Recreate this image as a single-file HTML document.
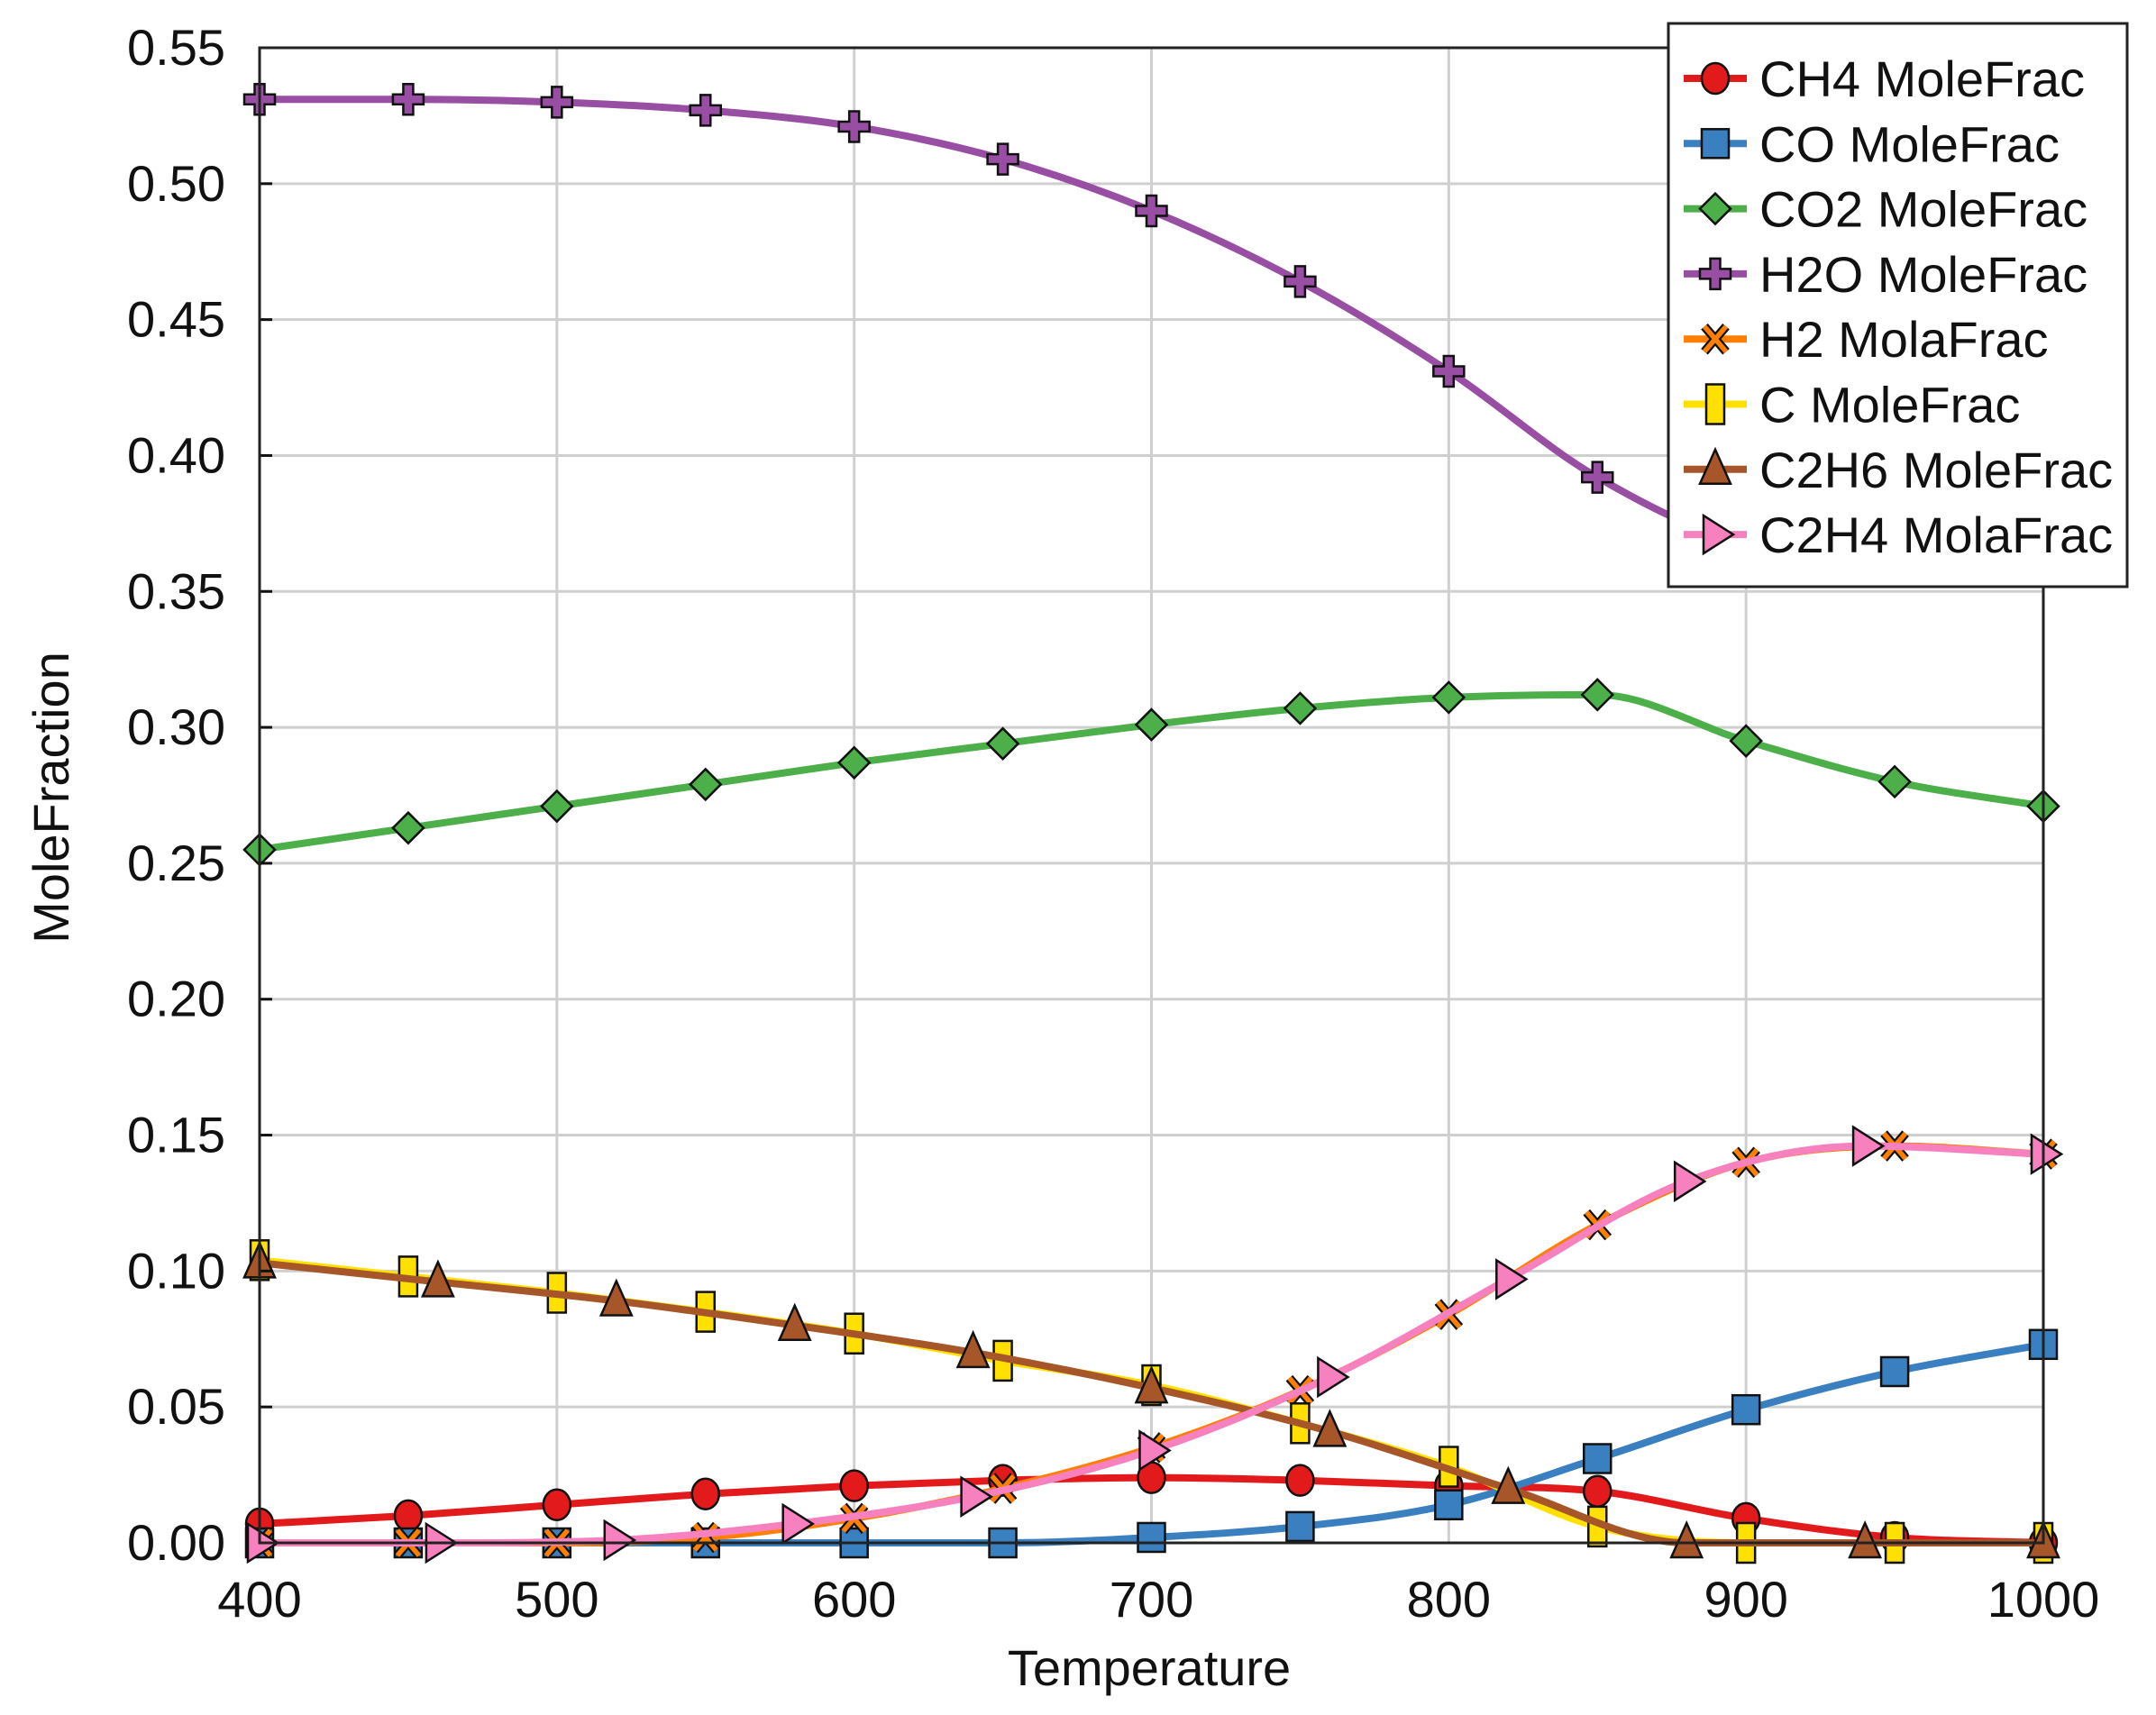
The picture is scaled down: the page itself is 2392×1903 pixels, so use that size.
<!DOCTYPE html>
<html><head><meta charset="utf-8"><style>
html,body{margin:0;padding:0;background:#fff;}
svg{display:block;font-family:"Liberation Sans",Arial,sans-serif;}
</style></head><body>
<svg id="chart" width="2392" height="1903" viewBox="0 0 2392 1903" xmlns="http://www.w3.org/2000/svg">
<g id="grid"></g>
<g id="series"></g>
<g id="axes"></g>
<g id="legend"></g>
</svg>
<script>
const xTicks = [400,500,600,700,800,900,1000];
const yTicks = [0,0.05,0.10,0.15,0.20,0.25,0.30,0.35,0.40,0.45,0.50,0.55];
const yTickLabels = ["0.00","0.05","0.10","0.15","0.20","0.25","0.30","0.35","0.40","0.45","0.50","0.55"];
const tStep50 = [400,450,500,550,600,650,700,750,800,850,900,950,1000];
const tStep60 = [400,460,520,580,640,700,760,820,880,940,1000];
const ch4 = [0.007,0.010,0.014,0.018,0.021,0.023,0.024,0.023,0.021,0.019,0.009,0.002,0.000];
const co = [0,0,0,0,0,0,0.002,0.006,0.014,0.031,0.049,0.063,0.073];
const co2 = [0.255,0.263,0.271,0.279,0.287,0.294,0.301,0.307,0.311,0.312,0.295,0.280,0.271];
const h2o = [0.531,0.531,0.530,0.527,0.521,0.509,0.490,0.464,0.431,0.392,0.368,0.364,0.362];
const h2 = [0,0,0,0.002,0.009,0.020,0.035,0.056,0.084,0.117,0.140,0.146,0.143];
const cMole = [0.104,0.098,0.092,0.085,0.077,0.067,0.058,0.044,0.028,0.006,0,0,0];
const c2h6 = [0.103,0.096,0.089,0.080,0.070,0.057,0.041,0.020,0,0,0];
const c2h4 = [0,0,0.001,0.007,0.017,0.034,0.061,0.097,0.133,0.146,0.143];

const L=288,R=2267,T=53,B=1712;
const xS=v=>L+(v-400)/600*(R-L);
const yS=v=>B-v/0.55*(B-T);
const NS="http://www.w3.org/2000/svg";
function mk(tag,attrs,parent){const e=document.createElementNS(NS,tag);for(const k in attrs)e.setAttribute(k,attrs[k]);parent.appendChild(e);return e;}
const grid=document.getElementById('grid'),axes=document.getElementById('axes'),ser=document.getElementById('series'),leg=document.getElementById('legend');

xTicks.forEach(v=>{
  const l=mk('line',{x1:xS(v),x2:xS(v),y1:T,y2:B,stroke:'#cfcfcf','stroke-width':3},grid);
  
  
  const t=mk('text',{x:xS(v),y:1794,'font-size':56,'text-anchor':'middle',fill:'#111'},axes);
  t.textContent=v;
  
  
});
yTicks.forEach((v,i)=>{
  const l=mk('line',{x1:L,x2:R,y1:yS(v),y2:yS(v),stroke:'#cfcfcf','stroke-width':3},grid);
  
  
  const tk=mk('line',{x1:L,x2:L+14,y1:yS(v),y2:yS(v),stroke:'#111','stroke-width':3},axes);
  
  
  const t=mk('text',{x:250,y:yS(v)+19,'font-size':56,'text-anchor':'end',fill:'#111'},axes);
  t.textContent=yTickLabels[i];
  
  
});
const frame=mk('rect',{x:L,y:T,width:R-L,height:B-T,fill:'none',stroke:'#222','stroke-width':3},axes);


const xt=mk('text',{x:1275,y:1870,'font-size':56,'text-anchor':'middle',fill:'#111'},axes);
xt.textContent='Temperature';


const yt=mk('text',{x:0,y:0,'font-size':56,'text-anchor':'middle',fill:'#111',transform:'translate(76,885) rotate(-90)'},axes);
yt.textContent='MoleFraction';



function monoPath(xs,ys){
  const n=xs.length,px=xs.map(xS),py=ys.map(yS);
  const d=[],m=[];
  for(let i=0;i<n-1;i++)d.push((py[i+1]-py[i])/(px[i+1]-px[i]));
  m[0]=d[0];m[n-1]=d[n-2];
  for(let i=1;i<n-1;i++)m[i]=(d[i-1]*d[i]<=0)?0:(d[i-1]+d[i])/2;
  for(let i=0;i<n-1;i++){if(d[i]===0){m[i]=0;m[i+1]=0;continue;}
    const a=m[i]/d[i],b=m[i+1]/d[i],s=a*a+b*b;if(s>9){const t=3/Math.sqrt(s);m[i]=t*a*d[i];m[i+1]=t*b*d[i];}}
  let p=`M${px[0]},${py[0]}`;
  for(let i=0;i<n-1;i++){const h=(px[i+1]-px[i])/3;
    p+=` C${px[i]+h},${py[i]+m[i]*h} ${px[i+1]-h},${py[i+1]-m[i+1]*h} ${px[i+1]},${py[i+1]}`;}
  return p;
}
function marker(kind,x,y,fill,parent){
  const st={fill:fill,stroke:'#111','stroke-width':2.5};
  let e;
  if(kind==='circle')e=mk('ellipse',Object.assign({cx:x,cy:y,rx:15,ry:17},st),parent);
  else if(kind==='square')e=mk('rect',Object.assign({x:x-15,y:y-16,width:30,height:32},st),parent);
  else if(kind==='diamond')e=mk('polygon',Object.assign({points:`${x},${y-17} ${x+17},${y} ${x},${y+17} ${x-17},${y}`},st),parent);
  else if(kind==='plus'){const a=5.5,b=17;e=mk('polygon',Object.assign({points:`${x-a},${y-b} ${x+a},${y-b} ${x+a},${y-a} ${x+b},${y-a} ${x+b},${y+a} ${x+a},${y+a} ${x+a},${y+b} ${x-a},${y+b} ${x-a},${y+a} ${x-b},${y+a} ${x-b},${y-a} ${x-a},${y-a}`},st),parent);}
  else if(kind==='x'){e=mk('path',Object.assign({d:`M${x-12},${y-14} L${x+12},${y+14} M${x+12},${y-14} L${x-12},${y+14}`,stroke:'#111','stroke-width':10,fill:'none'}),parent);
    mk('path',{d:`M${x-12},${y-14} L${x+12},${y+14} M${x+12},${y-14} L${x-12},${y+14}`,stroke:fill,'stroke-width':5.5,fill:'none'},parent);}
  else if(kind==='rect')e=mk('rect',Object.assign({x:x-10,y:y-22,width:20,height:44},st),parent);
  else if(kind==='tri')e=mk('polygon',Object.assign({points:`${x},${y-22} ${x+17},${y+16} ${x-17},${y+16}`},st),parent);
  else if(kind==='rtri')e=mk('polygon',Object.assign({points:`${x-13},${y-21} ${x+20},${y} ${x-13},${y+21}`},st),parent);
  if(e){}
  return e;
}
const seriesList=[
 {name:'CH4 MoleFrac',key:'ch4',xs:tStep50,ys:ch4,color:'#e31a1c',m:'circle'},
 {name:'CO MoleFrac',key:'co',xs:tStep50,ys:co,color:'#3a7fbf',m:'square'},
 {name:'CO2 MoleFrac',key:'co2',xs:tStep50,ys:co2,color:'#4daf4a',m:'diamond'},
 {name:'H2O MoleFrac',key:'h2o',xs:tStep50,ys:h2o,color:'#984ea3',m:'plus'},
 {name:'H2 MolaFrac',key:'h2',xs:tStep50,ys:h2,color:'#ff7f00',m:'x'},
 {name:'C MoleFrac',key:'c',xs:tStep50,ys:cMole,color:'#ffe000',m:'rect'},
 {name:'C2H6 MoleFrac',key:'c2h6',xs:tStep60,ys:c2h6,color:'#a65628',m:'tri'},
 {name:'C2H4 MolaFrac',key:'c2h4',xs:tStep60,ys:c2h4,color:'#f781bf',m:'rtri'}
];
seriesList.forEach(s=>{
  const g=mk('g',{},ser);
  
  
  const p=mk('path',{d:monoPath(s.xs,s.ys),fill:'none',stroke:s.color,'stroke-width':8,'stroke-linejoin':'round'},g);
  
  
  s.xs.forEach((x,i)=>marker(s.m,xS(x),yS(s.ys[i]),s.color,g));
});
const lb=mk('rect',{x:1851,y:26,width:509,height:625,fill:'#fff',stroke:'#222','stroke-width':3},leg);


seriesList.forEach((s,i)=>{
  const y=87+i*72.3;
  const g=mk('g',{},leg);
  
  
  mk('line',{x1:1868,x2:1938,y1:y,y2:y,stroke:s.color,'stroke-width':8},g);
  marker(s.m,1903,y,s.color,g);
  const t=mk('text',{x:1952,y:y+20,'font-size':56,fill:'#111'},g);
  t.textContent=s.name;
});
</script>
</body></html>
